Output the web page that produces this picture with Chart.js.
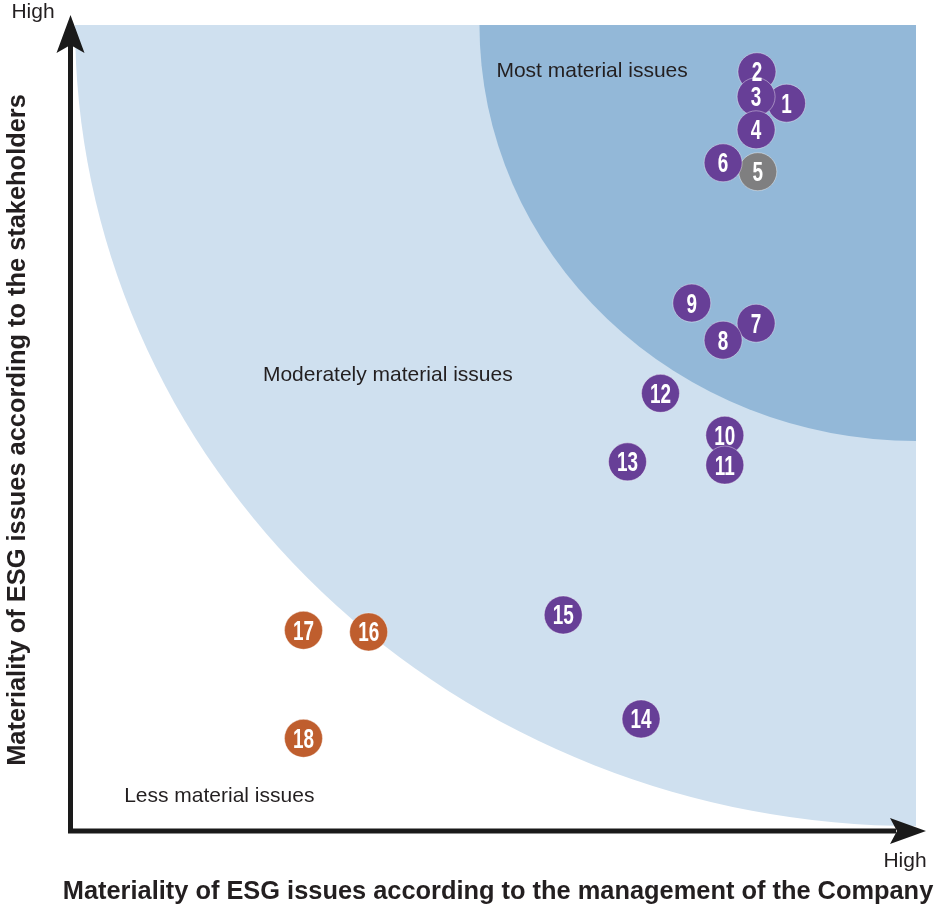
<!DOCTYPE html>
<html>
<head>
<meta charset="utf-8">
<script src="https://cdn.jsdelivr.net/npm/chart.js@4"></script>
<style>
  html, body { margin: 0; padding: 0; background: #ffffff; }
  canvas { display: block; }
</style>
</head>
<body>
<canvas id="c" width="936" height="906"></canvas>
<script>
// ---- Data ----
const issueIds = ['1','2','3','4','5','6','7','8','9','10','11','12','13','14','15','16','17','18'];
const managementScore = [84.7, 81.2, 81.1, 81.1, 81.3, 77.2, 81.1, 77.2, 73.5, 77.4, 77.4, 69.8, 65.9, 67.5, 58.3, 35.3, 27.6, 27.6];
const stakeholderScore = [90.3, 94.2, 91.1, 87.0, 81.8, 82.9, 63.0, 60.9, 65.5, 49.1, 45.4, 54.3, 45.8, 13.9, 26.8, 24.7, 24.9, 11.5];
const issueGroup = ['P','P','P','P','G','P','P','P','P','P','P','P','P','P','P','O','O','O'];
const zoneRadii = [99.4, 51.6];   // moderately material / most material boundaries
const zoneLabels = ['Less material issues', 'Moderately material issues', 'Most material issues'];
const axisTitles = ['Materiality of ESG issues according to the management of the Company', 'Materiality of ESG issues according to the stakeholders'];
const axisEndLabel = 'High';

// ---- Styles ----
const groupColors = { P: '#673f97', G: '#7f7f80', O: '#bf5e2e' };
const zoneColors = ['#cfe0ef', '#93b8d8'];
const textColor = '#231f20';
const FONT = '"Liberation Sans", Arial, Helvetica, sans-serif';

const points = issueIds.map((id, i) => ({ x: managementScore[i], y: stakeholderScore[i], id: id }));

const backgroundZones = {
  id: 'backgroundZones',
  beforeDatasetsDraw(chart) {
    const { ctx, chartArea, scales: { x, y } } = chart;
    const cx = x.getPixelForValue(x.max), cy = y.getPixelForValue(y.max);
    ctx.save();
    ctx.beginPath();
    ctx.rect(chartArea.left, chartArea.top, chartArea.right - chartArea.left, chartArea.bottom - chartArea.top);
    ctx.clip();
    zoneRadii.forEach((r, i) => {
      const rx = cx - x.getPixelForValue(x.max - r);
      const ry = y.getPixelForValue(y.max - r) - cy;
      ctx.beginPath();
      ctx.ellipse(cx, cy, rx, ry, 0, 0, Math.PI * 2);
      ctx.fillStyle = zoneColors[i];
      ctx.fill();
    });
    ctx.restore();

    // zone labels
    ctx.save();
    ctx.font = '21px ' + FONT;
    ctx.fillStyle = textColor;
    ctx.textBaseline = 'middle';
    ctx.textAlign = 'left';
    const labelPos = [[6.4, 4.3], [22.8, 56.6], [50.4, 94.3]];
    zoneLabels.forEach((t, i) => {
      ctx.fillText(t, x.getPixelForValue(labelPos[i][0]), y.getPixelForValue(labelPos[i][1]));
    });
    ctx.restore();
  }
};

const pointLabels = {
  id: 'pointLabels',
  afterDatasetsDraw(chart) {
    const { ctx } = chart;
    const meta = chart.getDatasetMeta(0);
    ctx.save();
    ctx.fillStyle = '#ffffff';
    ctx.font = 'bold 27px ' + FONT;
    ctx.textAlign = 'center';
    ctx.textBaseline = 'alphabetic';
    meta.data.forEach((el, i) => {
      ctx.save();
      ctx.translate(el.x, el.y + 9.5);
      ctx.scale(0.7, 1);
      ctx.fillText(issueIds[i], 0, 0);
      ctx.restore();
    });
    ctx.restore();
  }
};

const axesArrows = {
  id: 'axesArrows',
  afterDraw(chart) {
    const { ctx, chartArea } = chart;
    const ox = chartArea.left + 0.5, oy = chartArea.bottom;
    ctx.save();
    ctx.strokeStyle = '#1a1a1a';
    ctx.fillStyle = '#1a1a1a';
    ctx.lineWidth = 5;
    ctx.lineCap = 'butt';
    ctx.beginPath();
    ctx.moveTo(ox, oy + 2.5);
    ctx.lineTo(ox, chartArea.top + 20);
    ctx.moveTo(ox - 2.5, oy);
    ctx.lineTo(chartArea.right - 20, oy);
    ctx.stroke();
    // y arrow head
    const ty = chartArea.top - 10;
    ctx.beginPath();
    ctx.moveTo(ox, ty);
    ctx.lineTo(ox + 14, ty + 38);
    ctx.lineTo(ox, ty + 30);
    ctx.lineTo(ox - 14, ty + 38);
    ctx.closePath();
    ctx.fill();
    // x arrow head
    const tx = chartArea.right + 10;
    ctx.beginPath();
    ctx.moveTo(tx, oy);
    ctx.lineTo(tx - 36, oy + 13);
    ctx.lineTo(tx - 29, oy);
    ctx.lineTo(tx - 36, oy - 13);
    ctx.closePath();
    ctx.fill();

    // "High" labels
    ctx.fillStyle = textColor;
    ctx.font = '21px ' + FONT;
    ctx.textBaseline = 'alphabetic';
    ctx.textAlign = 'center';
    ctx.fillText(axisEndLabel, 33, 18);
    ctx.fillText(axisEndLabel, 905, 867);

    // axis titles
    ctx.font = 'bold 25.4px ' + FONT;
    ctx.fillText(axisTitles[0], 498, 899);
    ctx.save();
    ctx.translate(25, 430);
    ctx.rotate(-Math.PI / 2);
    ctx.fillText(axisTitles[1], 0, 0);
    ctx.restore();
    ctx.restore();
  }
};

new Chart(document.getElementById('c'), {
  type: 'scatter',
  data: {
    datasets: [{
      data: points,
      pointRadius: 19,
      pointHoverRadius: 19,
      pointBackgroundColor: issueGroup.map(g => groupColors[g]),
      pointBorderColor: 'rgba(255,255,255,0.4)',
      pointBorderWidth: 1
    }]
  },
  options: {
    responsive: false,
    animation: false,
    events: [],
    layout: { padding: { left: 70, right: 18, top: 25, bottom: 75 } },
    scales: {
      x: { type: 'linear', min: 0, max: 100, display: false },
      y: { type: 'linear', min: 0, max: 100, display: false }
    },
    plugins: {
      legend: { display: false },
      tooltip: { enabled: false }
    }
  },
  plugins: [backgroundZones, pointLabels, axesArrows]
});
</script>
</body>
</html>
